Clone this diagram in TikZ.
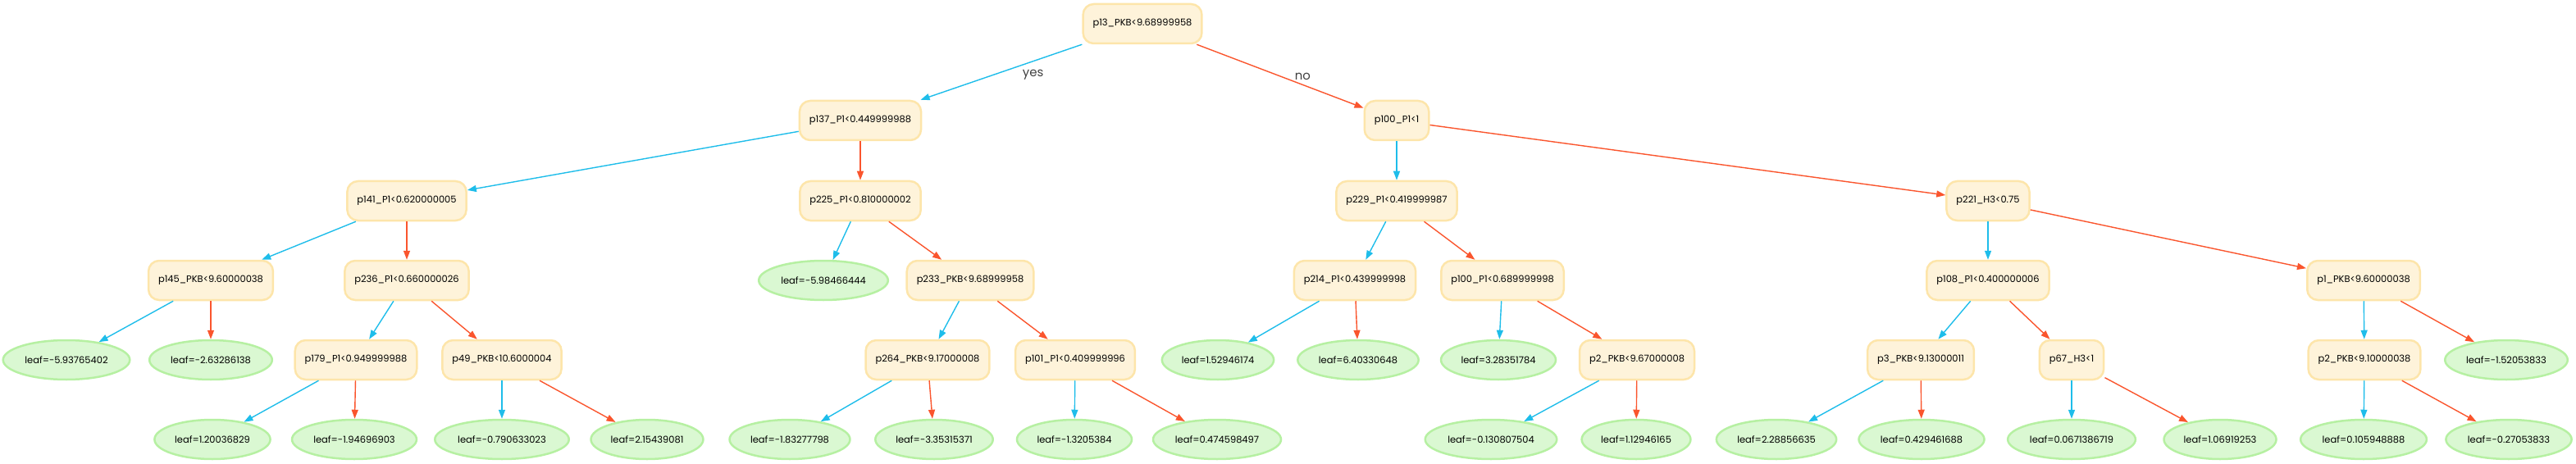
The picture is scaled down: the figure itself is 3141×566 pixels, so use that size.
\documentclass[tikz,border=0pt]{standalone}
\usepackage{fontspec}
\setmainfont{Poppins}
\usepackage{tikz}
\usetikzlibrary{arrows.meta,
                    shapes.geometric}
\definecolor{creme}{HTML}{FEF3DA}
\definecolor{bordacond}{HTML}{FDE5AA}
\definecolor{verde}{HTML}{DAF8D2}
\definecolor{bordafolha}{HTML}{B6F0A2}
\definecolor{azul}{HTML}{1EBDEA}
\definecolor{laranja}{HTML}{FA552D}

\begin{document}
\begin{tikzpicture}[x=1bp,y=-1bp,
    cond/.style={draw=bordacond,fill=creme,line width=2.5bp,rounded corners=13bp,
                 minimum height=48bp,inner xsep=12bp,font=\fontsize{11.5}{13}\selectfont},
    folha/.style={ellipse,draw=bordafolha,fill=verde,line width=2.5bp,
                  minimum height=48bp,inner xsep=4bp,font=\fontsize{11.5}{13}\selectfont},
    sim/.style={azul,line width=1.4bp,-{Triangle[length=11bp,width=8bp]}},
    nao/.style={laranja,line width=1.4bp,-{Triangle[length=11bp,width=8bp]}},
    rot/.style={text=black!75,font=\fontsize{15}{17}\selectfont}]
    \useasboundingbox (0,0) rectangle (3141,566);

    % raiz e primeiro nivel
    \node[cond] (p13) at (1393,29) {p13\_PKB<9.68999958};
    \node[cond] (p137) at (1049,147) {p137\_P1<0.449999988};
    \node[cond] (p100) at (1703,147) {p100\_P1<1};

    % segundo nivel
    \node[cond] (p141) at (496,245) {p141\_P1<0.620000005};
    \node[cond] (p225) at (1049,245) {p225\_P1<0.810000002};
    \node[cond] (p229) at (1703,245) {p229\_P1<0.419999987};
    \node[cond] (p221) at (2424,245) {p221\_H3<0.75};

    % terceiro nivel
    \node[cond] (p145) at (257,342) {p145\_PKB<9.60000038};
    \node[cond] (p236) at (496,342) {p236\_P1<0.660000026};
    \node[folha] (p225y) at (1004,342) {leaf=-5.98466444};
    \node[cond] (p233) at (1183,342) {p233\_PKB<9.68999958};
    \node[cond] (p214) at (1652,342) {p214\_P1<0.439999998};
    \node[cond] (p100b) at (1832,342) {p100\_P1<0.689999998};
    \node[cond] (p108) at (2424,342) {p108\_P1<0.400000006};
    \node[cond] (p1) at (2882,342) {p1\_PKB<9.60000038};

    % quarto nivel
    \node[folha] (p145y) at (81,439) {leaf=-5.93765402};
    \node[folha] (p145n) at (257,439) {leaf=-2.63286138};
    \node[cond] (p179) at (434,439) {p179\_P1<0.949999988};
    \node[cond] (p49) at (612,439) {p49\_PKB<10.6000004};
    \node[cond] (p264) at (1131,439) {p264\_PKB<9.17000008};
    \node[cond] (p101) at (1311,439) {p101\_P1<0.409999996};
    \node[folha] (p214y) at (1485,439) {leaf=1.52946174};
    \node[folha] (p214n) at (1656,439) {leaf=6.40330648};
    \node[folha] (p100by) at (1827,439) {leaf=3.28351784};
    \node[cond] (p2a) at (1996,439) {p2\_PKB<9.67000008};
    \node[cond] (p3) at (2342,439) {p3\_PKB<9.13000011};
    \node[cond] (p67) at (2526,439) {p67\_H3<1};
    \node[cond] (p2b) at (2883,439) {p2\_PKB<9.10000038};
    \node[folha] (p1n) at (3056,439) {leaf=-1.52053833};

    % folhas de baixo
    \node[folha] (p179y) at (259,536) {leaf=1.20036829};
    \node[folha] (p179n) at (432,536) {leaf=-1.94696903};
    \node[folha] (p49y) at (612,536) {leaf=-0.790633023};
    \node[folha] (p49n) at (789,536) {leaf=2.15439081};
    \node[folha] (p264y) at (963,536) {leaf=-1.83277798};
    \node[folha] (p264n) at (1139,536) {leaf=-3.35315371};
    \node[folha] (p101y) at (1310,536) {leaf=-1.3205384};
    \node[folha] (p101n) at (1484,536) {leaf=0.474598497};
    \node[folha] (p2ay) at (1818,536) {leaf=-0.130807504};
    \node[folha] (p2an) at (1995,536) {leaf=1.12946165};
    \node[folha] (p3y) at (2166,536) {leaf=2.28856635};
    \node[folha] (p3n) at (2343,536) {leaf=0.429461688};
    \node[folha] (p67y) at (2526,536) {leaf=0.0671386719};
    \node[folha] (p67n) at (2707,536) {leaf=1.06919253};
    \node[folha] (p2by) at (2882,536) {leaf=0.105948888};
    \node[folha] (p2bn) at (3059,536) {leaf=-0.27053833};

    % arestas: sim (azul) e nao (laranja)
    \draw[sim] (p13) -- (p137) node[rot,midway,right=22bp,yshift=-3bp]{yes};
    \draw[nao] (p13) -- (p100) node[rot,midway,right=14bp]{no};
    \draw[sim] (p137) -- (p141); \draw[nao] (p137) -- (p225);
    \draw[sim] (p100) -- (p229); \draw[nao] (p100) -- (p221);
    \draw[sim] (p141) -- (p145); \draw[nao] (p141) -- (p236);
    \draw[sim] (p225) -- (p225y); \draw[nao] (p225) -- (p233);
    \draw[sim] (p229) -- (p214); \draw[nao] (p229) -- (p100b);
    \draw[sim] (p221) -- (p108); \draw[nao] (p221) -- (p1);
    \draw[sim] (p145) -- (p145y); \draw[nao] (p145) -- (p145n);
    \draw[sim] (p236) -- (p179); \draw[nao] (p236) -- (p49);
    \draw[sim] (p233) -- (p264); \draw[nao] (p233) -- (p101);
    \draw[sim] (p214) -- (p214y); \draw[nao] (p214) -- (p214n);
    \draw[sim] (p100b) -- (p100by); \draw[nao] (p100b) -- (p2a);
    \draw[sim] (p108) -- (p3); \draw[nao] (p108) -- (p67);
    \draw[sim] (p1) -- (p2b); \draw[nao] (p1) -- (p1n);
    \draw[sim] (p179) -- (p179y); \draw[nao] (p179) -- (p179n);
    \draw[sim] (p49) -- (p49y); \draw[nao] (p49) -- (p49n);
    \draw[sim] (p264) -- (p264y); \draw[nao] (p264) -- (p264n);
    \draw[sim] (p101) -- (p101y); \draw[nao] (p101) -- (p101n);
    \draw[sim] (p2a) -- (p2ay); \draw[nao] (p2a) -- (p2an);
    \draw[sim] (p3) -- (p3y); \draw[nao] (p3) -- (p3n);
    \draw[sim] (p67) -- (p67y); \draw[nao] (p67) -- (p67n);
    \draw[sim] (p2b) -- (p2by); \draw[nao] (p2b) -- (p2bn);
\end{tikzpicture}
\end{document}
